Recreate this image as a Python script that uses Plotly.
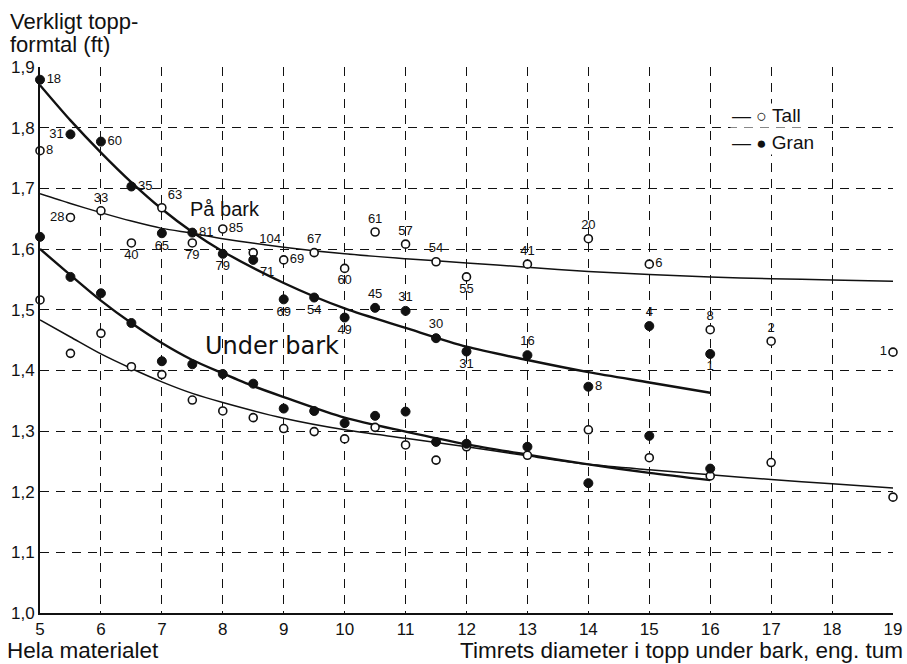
import plotly.graph_objects as go

# ---------------- data ----------------
# Gran (spruce) – observed means, on bark (På bark) and under bark
x_gran = [5, 5.5, 6, 6.5, 7, 7.5, 8, 8.5, 9, 9.5, 10, 10.5, 11, 11.5, 12, 13, 14, 15, 16]
gran_pa_bark = [1.879, 1.789, 1.777, 1.703, 1.626, 1.627, 1.592, 1.582, 1.517, 1.520,
                1.487, 1.503, 1.498, 1.453, 1.431, 1.425, 1.373, 1.473, 1.427]
gran_n = [18, 31, 60, 35, 65, 81, 79, 71, 69, 54, 49, 45, 31, 30, 31, 16, 8, 4, 1]
gran_under_bark = [1.620, 1.554, 1.527, 1.478, 1.415, 1.410, 1.394, 1.378, 1.337, 1.333,
                   1.313, 1.325, 1.332, 1.282, 1.279, 1.274, 1.214, 1.292, 1.238]

# Tall (pine) – observed means
x_tall = [5, 5.5, 6, 6.5, 7, 7.5, 8, 8.5, 9, 9.5, 10, 10.5, 11, 11.5, 12, 13, 14, 15, 16, 17, 19]
tall_pa_bark = [1.762, 1.652, 1.663, 1.610, 1.668, 1.610, 1.633, 1.594, 1.582, 1.594, 1.568,
                1.628, 1.608, 1.579, 1.554, 1.575, 1.617, 1.575, 1.467, 1.448, 1.430]
tall_n = [8, 28, 33, 40, 63, 79, 85, 104, 69, 67, 60, 61, 57, 54, 55, 41, 20, 6, 8, 2, 1]
tall_under_bark = [1.516, 1.428, 1.461, 1.406, 1.393, 1.351, 1.333, 1.322, 1.304, 1.299, 1.287,
                   1.306, 1.277, 1.252, 1.274, 1.260, 1.302, 1.256, 1.226, 1.248, 1.191]

# Fitted (smoothed) curves
gran_pa_curve_x = [5, 5.5, 6, 6.5, 7, 7.5, 8, 9, 10, 11, 12, 13, 14, 15, 16]
gran_pa_curve_y = [1.870, 1.812, 1.759, 1.710, 1.666, 1.628, 1.596, 1.544, 1.502,
                   1.470, 1.439, 1.417, 1.397, 1.380, 1.363]
gran_ub_curve_x = [5, 5.5, 6, 6.5, 7, 7.5, 8, 8.5, 9, 10, 11, 12, 13, 14, 15, 16]
gran_ub_curve_y = [1.600, 1.557, 1.515, 1.478, 1.445, 1.417, 1.395, 1.374, 1.356,
                   1.322, 1.299, 1.278, 1.261, 1.245, 1.231, 1.219]
tall_pa_curve_x = [5, 5.5, 6, 6.5, 7, 7.5, 8, 9, 10, 11, 12, 13, 14, 15, 16, 17, 18, 19]
tall_pa_curve_y = [1.691, 1.675, 1.660, 1.646, 1.634, 1.626, 1.617, 1.603, 1.592, 1.584,
                   1.577, 1.570, 1.563, 1.558, 1.554, 1.551, 1.549, 1.547]
tall_ub_curve_x = [5, 5.5, 6, 6.5, 7, 7.5, 8, 9, 10, 11, 12, 13, 14, 15, 16, 17, 18, 19]
tall_ub_curve_y = [1.483, 1.455, 1.427, 1.403, 1.381, 1.362, 1.347, 1.321, 1.302, 1.288,
                   1.274, 1.259, 1.245, 1.236, 1.228, 1.220, 1.213, 1.206]

x_ticks = list(range(5, 20))
y_ticks = [1.0, 1.1, 1.2, 1.3, 1.4, 1.5, 1.6, 1.7, 1.8, 1.9]

# label placement (style only)
gran_label_pos = ["middle right", "middle left", "middle right", "middle right", "bottom center",
                  "middle right", "bottom center", "bottom right", "bottom center", "bottom center",
                  "bottom center", "top center", "top center", "top center", "bottom center",
                  "top center", "middle right", "top center", "bottom center"]
tall_label_pos = ["middle right", "middle left", "top center", "bottom center", "top right",
                  "bottom center", "middle right", "top right", "middle right", "top center",
                  "bottom center", "top center", "top center", "top center", "bottom center",
                  "top center", "top center", "middle right", "top center", "top center",
                  "middle left"]

FONT = "Liberation Sans, Arial, sans-serif"
WIDE = "DejaVu Sans, Verdana, sans-serif"
BLACK = "#111111"

fig = go.Figure()

# curves
for cx, cy, w in [(tall_pa_curve_x, tall_pa_curve_y, 1.5),
                  (tall_ub_curve_x, tall_ub_curve_y, 1.5),
                  (gran_pa_curve_x, gran_pa_curve_y, 2.4),
                  (gran_ub_curve_x, gran_ub_curve_y, 2.4)]:
    fig.add_trace(go.Scatter(x=cx, y=cy, mode="lines",
                             line=dict(color=BLACK, width=w, shape="spline", smoothing=0.8),
                             showlegend=False, hoverinfo="skip", cliponaxis=False))

open_marker = dict(symbol="circle", size=8, color="white", line=dict(color=BLACK, width=1.6))
filled_marker = dict(symbol="circle", size=9, color=BLACK, line=dict(color=BLACK, width=1))
label_font = dict(family=FONT, size=13, color=BLACK)

fig.add_trace(go.Scatter(x=x_tall, y=tall_under_bark, mode="markers", marker=open_marker,
                         showlegend=False, cliponaxis=False))
fig.add_trace(go.Scatter(x=x_gran, y=gran_under_bark, mode="markers", marker=filled_marker,
                         showlegend=False, cliponaxis=False))
fig.add_trace(go.Scatter(x=x_tall, y=tall_pa_bark, mode="markers+text", marker=open_marker,
                         text=[str(n) for n in tall_n], textposition=tall_label_pos,
                         textfont=label_font, showlegend=False, cliponaxis=False))
fig.add_trace(go.Scatter(x=x_gran, y=gran_pa_bark, mode="markers+text", marker=filled_marker,
                         text=[str(n) for n in gran_n], textposition=gran_label_pos,
                         textfont=label_font, showlegend=False, cliponaxis=False))

grid = dict(showgrid=True, gridcolor=BLACK, gridwidth=1.2, griddash="9px,7px",
            zeroline=False, showline=True, linecolor=BLACK, linewidth=2, automargin=False,
            ticks="", tickfont=dict(family=FONT, size=17, color=BLACK))

fig.update_xaxes(range=[5, 19], tickvals=x_ticks, ticktext=[str(v) for v in x_ticks], **grid)
fig.update_yaxes(range=[1.0, 1.9], tickvals=y_ticks, tickformat=".1f", **grid)

annotations = [
    dict(x=7.43, y=1.666, xref="x", yref="y", text="På bark", showarrow=False,
         xanchor="left", yanchor="middle", font=dict(family=FONT, size=20, color=BLACK)),
    dict(x=7.68, y=1.440, xref="x", yref="y", text="Under bark", showarrow=False,
         xanchor="left", yanchor="middle", font=dict(family=WIDE, size=24, color=BLACK)),
    dict(x=16.33, y=1.82, xref="x", yref="y",
         text="— <span style='font-size:18px'>○</span> Tall", showarrow=False,
         xanchor="left", yanchor="middle", bgcolor="white",
         font=dict(family=FONT, size=19, color=BLACK)),
    dict(x=16.33, y=1.775, xref="x", yref="y",
         text="— <span style='font-size:17px'>●</span> Gran", showarrow=False,
         xanchor="left", yanchor="middle", bgcolor="white",
         font=dict(family=FONT, size=19, color=BLACK)),
    dict(x=-0.037, y=1.084, xref="paper", yref="paper", text="Verkligt topp-",
         showarrow=False, xanchor="left", yanchor="middle",
         font=dict(family=FONT, size=22, color=BLACK)),
    dict(x=-0.037, y=1.042, xref="paper", yref="paper", text="formtal (ft)",
         showarrow=False, xanchor="left", yanchor="middle",
         font=dict(family=FONT, size=22, color=BLACK)),
    dict(x=-0.041, y=-0.068, xref="paper", yref="paper", text="Hela materialet", showarrow=False,
         xanchor="left", yanchor="middle", font=dict(family=FONT, size=22.5, color=BLACK)),
    dict(x=1.014, y=-0.068, xref="paper", yref="paper",
         text="Timrets diameter i topp under bark, eng. tum", showarrow=False,
         xanchor="right", yanchor="middle", font=dict(family=FONT, size=22.5, color=BLACK)),
]

fig.update_layout(
    width=907, height=664,
    margin=dict(l=40, r=14, t=67, b=51, autoexpand=False),
    paper_bgcolor="white", plot_bgcolor="white",
    separators=",.",
    font=dict(family=FONT, color=BLACK),
    annotations=annotations,
    showlegend=False,
)

fig.write_html("out.html")
